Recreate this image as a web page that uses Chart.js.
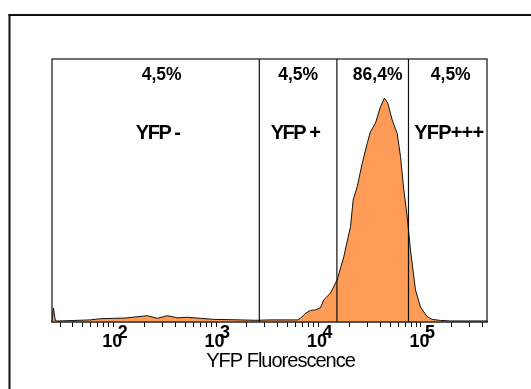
<!DOCTYPE html>
<html>
<head>
<meta charset="utf-8">
<script src="https://cdn.jsdelivr.net/npm/chart.js@4.4.0/dist/chart.umd.min.js"></script>
<style>
  html, body { margin: 0; padding: 0; background: #fff; }
  #wrap { width: 531px; height: 389px; }
</style>
</head>
<body>
<div id="wrap"><canvas id="myChart"></canvas></div>
<script>
// histogram of YFP fluorescence (x = intensity, y = relative count)
let fluor = [25, 25.8, 27, 30, 59, 74, 99, 130, 170, 213, 267, 334, 419, 525, 703, 942,
    1730, 2420, 3390, 6220, 6660, 7450, 8340, 9330, 10440, 11250, 13070, 15200, 17630,
    20500, 21780, 23830, 26670, 29840, 32150, 35970, 40200, 44000, 47440, 52350, 58580,
    63100, 67970, 73330, 79000, 88360, 98900, 115000, 128600, 155000, 194000, 441000];
let counts = [0.4, 5.3, 0.4, 0.4, 0.8, 1.25, 1.4, 1.5, 2.0, 2.4, 1.4, 2.4, 1.6, 1.8, 1.4, 1.0,
    0.8, 0.65, 0.8, 0.8, 1.4, 3.3, 4.4, 4.6, 5.4, 8.4, 11.0, 16.0, 24.8,
    36.2, 46.4, 51.4, 60.3, 67.9, 72.4, 75.6, 81.9, 85.1, 83.2, 76.8, 71.7,
    62.9, 50.2, 40.0, 27.4, 12.2, 5.7, 2.0, 1.0, 0.6, 0.4, 0.4];

// gate boundaries and their labels
let gateEdges = [2640, 15100, 75500];
let gatePercents = ['4,5%', '4,5%', '86,4%', '4,5%'];
let gateNames = ['YFP -', 'YFP +', '', 'YFP+++'];

// axis
let xMin = 25, xMax = 441000;
let tickValues = [30, 40, 50, 60, 70, 80, 90,
    100, 200, 300, 400, 500, 600, 700, 800, 900,
    1000, 2000, 3000, 4000, 5000, 6000, 7000, 8000, 9000,
    10000, 20000, 30000, 40000, 50000, 60000, 70000, 80000, 90000,
    100000, 200000, 300000, 400000];
let decadeLabels = [2, 3, 4, 5];
let axisTitle = 'YFP Fluorescence';

// small nudges so the labels sit where they do in the figure
let pctShift = [6, 0, 5, 3];
let nameShift = [2, -3, 0, 1];

const FONT = '"Liberation Sans", Arial, sans-serif';

let points = fluor.map((v, i) => ({ x: v, y: counts[i] }));

const overlay = {
    id: 'overlay',
    afterDraw(chart) {
        const ctx = chart.ctx;
        const area = chart.chartArea;
        const xs = chart.scales.x;
        ctx.save();

        // outer frame (only top and left are visible)
        ctx.fillStyle = '#111';
        ctx.fillRect(8.5, 14, 531 - 8.5, 2);
        ctx.fillRect(8.5, 14, 2, 389 - 14);

        // plot box
        ctx.strokeStyle = '#111';
        ctx.lineWidth = 1.2;
        ctx.strokeRect(area.left, area.top, area.right - area.left, area.bottom - area.top);

        // gates
        let edgesPx = [area.left];
        gateEdges.forEach(g => {
            const px = xs.getPixelForValue(g);
            edgesPx.push(px);
            ctx.beginPath();
            ctx.moveTo(px, area.top);
            ctx.lineTo(px, area.bottom);
            ctx.stroke();
        });
        edgesPx.push(area.right);

        ctx.fillStyle = '#000';
        ctx.textAlign = 'center';
        ctx.textBaseline = 'alphabetic';
        for (let i = 0; i < gatePercents.length; i++) {
            const cx = (edgesPx[i] + edgesPx[i + 1]) / 2;
            ctx.font = 'bold 17.5px ' + FONT;
            ctx.letterSpacing = '0px';
            ctx.fillText(gatePercents[i], cx + pctShift[i], area.top + 20.5);
            if (gateNames[i]) {
                ctx.font = 'bold 20px ' + FONT;
                ctx.letterSpacing = i == 3 ? '-0.8px' : '-1.5px';
                ctx.fillText(gateNames[i], cx + nameShift[i], area.top + 80);
            }
        }

        // decade labels 10^n
        decadeLabels.forEach(e => {
            const px = xs.getPixelForValue(Math.pow(10, e));
            ctx.letterSpacing = '0px';
            ctx.font = 'bold 18px ' + FONT;
            ctx.textAlign = 'center';
            ctx.fillText('10', px - 1.5, area.bottom + 24.5);
            ctx.textAlign = 'left';
            ctx.fillText(String(e), px + 4, area.bottom + 15.5);
        });

        // axis title
        ctx.font = '20px ' + FONT;
        ctx.letterSpacing = '-1px';
        ctx.textAlign = 'center';
        ctx.fillText(axisTitle, (area.left + area.right) / 2 + 11, area.bottom + 45);

        ctx.restore();
    }
};

let config = {
    type: 'line',
    data: {
        datasets: [{
            label: 'YFP',
            data: points,
            borderColor: '#111',
            borderWidth: 1,
            backgroundColor: '#FE9B56',
            fill: 'origin',
            pointRadius: 0,
            tension: 0,
        }]
    },
    options: {
        responsive: true,
        maintainAspectRatio: false,
        animation: false,
        layout: {
            padding: { left: 52, right: 44, top: 59, bottom: 62 }
        },
        plugins: {
            legend: { display: false },
            tooltip: { enabled: false }
        },
        scales: {
            x: {
                type: 'logarithmic',
                min: xMin,
                max: xMax,
                afterBuildTicks: (scale) => {
                    scale.ticks = tickValues.map(v => ({ value: v }));
                },
                ticks: { display: false },
                grid: {
                    drawOnChartArea: false,
                    drawTicks: true,
                    tickLength: 5,
                    color: '#111',
                    tickColor: '#111',
                },
                border: { display: true, color: '#111', width: 1.2 }
            },
            y: {
                display: false,
                min: 0,
                max: 100,
            }
        }
    },
    plugins: [overlay]
};

let myChart = new Chart(document.getElementById('myChart'), config);
</script>
</body>
</html>
